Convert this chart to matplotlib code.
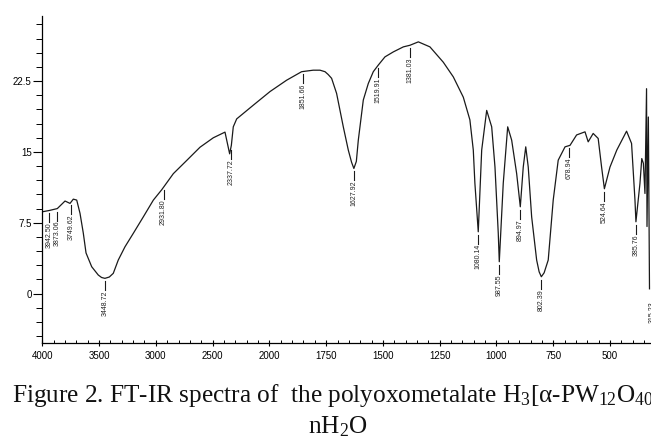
#!/usr/bin/env python
#
import numpy as np
import matplotlib
matplotlib.use('Agg')
import matplotlib.pyplot as plt
from matplotlib.ticker import FixedLocator, FixedFormatter

###########################
## FT-IR spectrum (wavenumber, transmittance)

wavenumber = [4000, 3938, 3868, 3800, 3756, 3727, 3697, 3668, 3639, 3615,
              3565, 3507, 3478, 3448.72, 3410, 3375, 3331, 3272, 3199, 3110, 3022, 2948,
              2846, 2728, 2611, 2494, 2391, 2350, 2335, 2318, 2288, 2142,
              1997, 1924, 1858, 1807, 1777, 1755, 1741, 1726, 1704, 1674.5,
              1652.5, 1638, 1627.92, 1617, 1608.4, 1586.4, 1564.4, 1542.4, 1520.4, 1491, 1454, 1410,
              1381, 1344, 1293, 1234, 1190, 1146, 1117, 1102, 1095, 1080.14,
              1065, 1043, 1021, 1006.5, 992, 987.55, 970, 950.5, 933, 911,
              894.97, 882, 871, 860, 845, 823, 812, 802.39, 790, 772, 750, 728,
              698, 676, 647, 610, 596, 574, 552, 537, 524.64, 500,
              470, 427, 405, 390, 385.76, 368, 360, 353, 346, 339,
              337, 331, 326]

transmittance = [8.66, 8.8, 9.0, 9.8, 9.55, 10.0, 9.9, 8.5, 6.4, 4.3,
                 2.84, 1.96, 1.7, 1.61, 1.75, 2.14, 3.55, 4.95, 6.37, 8.13, 9.9, 11.0,
                 12.7, 14.1, 15.5, 16.5, 17.1, 14.8, 15.7, 17.66, 18.5, 19.95,
                 21.4, 22.6, 23.5, 23.66, 23.66, 23.5, 23.2, 22.8, 21.2, 17.66,
                 15.2, 13.9, 13.25, 14.0, 16.25, 20.5, 22.25, 23.5, 24.2, 25.07, 25.6, 26.13,
                 26.3, 26.66, 26.13, 24.5, 22.95, 20.8, 18.4, 15.2, 11.7, 6.54,
                 15.2, 19.4, 17.66, 13.4, 6.37, 3.37, 11.7, 17.66, 16.25, 12.7,
                 9.19, 13.4, 15.54, 13.4, 8.13, 3.55, 2.3, 1.78, 2.2, 3.55, 9.9, 14.13,
                 15.54, 15.7, 16.8, 17.13, 16.07, 16.96, 16.43, 13.4, 11.1, 13.4,
                 15.2, 17.2, 15.9, 9.9, 7.6, 11.67, 14.3, 13.8, 10.6, 21.7,
                 7.1, 18.7, 0.5]

peak_labels = ['3942.50', '3873.06', '3749.62', '3448.72', '2931.80', '2337.72',
               '1851.66', '1627.92', '1519.91', '1381.03', '1080.14', '987.55',
               '894.97', '802.39', '678.94', '524.64', '385.76', '315.23']

x_major = [4000, 3500, 3000, 2500, 2000, 1750, 1500, 1250, 1000, 750, 500, 250]
y_major = [0, 7.5, 15, 22.5]
y_labels = ['0', '7.5', '15', '22.5']

caption1 = r'Figure 2. FT-IR spectra of  the polyoxometalate H$_3$[α-PW$_{12}$O$_{40}$]·'
caption2 = r'nH$_2$O'

###########################

## scale change at 2000 cm-1 (below it is stretched x2)
def fwd(w):
    w = np.asarray(w, dtype=float)
    return np.where(w >= 2000, w, 2*w - 2000)

def inv(u):
    u = np.asarray(u, dtype=float)
    return np.where(u >= 2000, u, (u + 2000)/2.)


plt.rcParams['font.family'] = ['Liberation Sans', 'DejaVu Sans']
plt.rcParams['mathtext.fontset'] = 'custom'
plt.rcParams['mathtext.rm'] = 'Liberation Serif'
plt.rcParams['mathtext.default'] = 'regular'

fig = plt.figure(figsize=(6.51, 4.36), dpi=100)
ax = fig.add_axes([0.065, 0.2122, 0.9592, 0.7511])

wn = np.array(wavenumber)
tr = np.array(transmittance)

ax.plot(wn, tr, color='#1a1a1a', lw=0.9)

ax.set_xscale('function', functions=(fwd, inv))
ax.set_xlim(4000, 250)
ax.set_ylim(-5.29, 29.4)

## peak labels, hanging under the curve
for lab in peak_labels:
    w = float(lab)
    yc = np.interp(w, wn[::-1], tr[::-1])
    y0 = yc - 0.3
    y1 = yc - 1.25
    ax.plot([w, w], [y0, y1], color='#1a1a1a', lw=0.8, clip_on=False)
    ax.text(w, y1 - 0.05, lab, rotation=90, ha='center', va='top',
            fontsize=5, color='#222222', clip_on=False)

## axes style
for s in ['top', 'right']:
    ax.spines[s].set_visible(False)
ax.spines['left'].set_linewidth(0.9)
ax.spines['bottom'].set_linewidth(0.9)

ax.xaxis.set_major_locator(FixedLocator(x_major))
x_minor = [v for v in np.arange(4000, 2000, -100)] + [v for v in np.arange(2000, 200, -50)]
x_minor = [v for v in x_minor if v not in x_major]
ax.xaxis.set_minor_locator(FixedLocator(x_minor))
ax.xaxis.set_major_formatter(FixedFormatter([str(v) for v in x_major]))

ax.yaxis.set_major_locator(FixedLocator(y_major))
ax.yaxis.set_major_formatter(FixedFormatter(y_labels))
y_minor = [v for v in np.arange(-4.5, 29.0, 1.5) if round(v, 2) not in y_major]
ax.yaxis.set_minor_locator(FixedLocator(y_minor))

ax.tick_params(axis='x', which='major', direction='inout', length=5, width=0.8,
               labelsize=7, pad=3)
ax.tick_params(axis='x', which='minor', direction='in', length=2.5, width=0.7)
ax.tick_params(axis='y', which='major', direction='out', length=6.5, width=0.8,
               labelsize=7, pad=1.2)
ax.tick_params(axis='y', which='minor', direction='out', length=4, width=0.7)

## caption (the page is wider than the crop, so the first line runs off)
fig.text(0.018, 0.0787, caption1, fontsize=18.2, family='Liberation Serif',
         ha='left', va='baseline', color='#111111')
fig.text(0.473, 0.007, caption2, fontsize=18.2, family='Liberation Serif',
         ha='left', va='baseline', color='#111111')

fig.savefig('out.png', dpi=100)
